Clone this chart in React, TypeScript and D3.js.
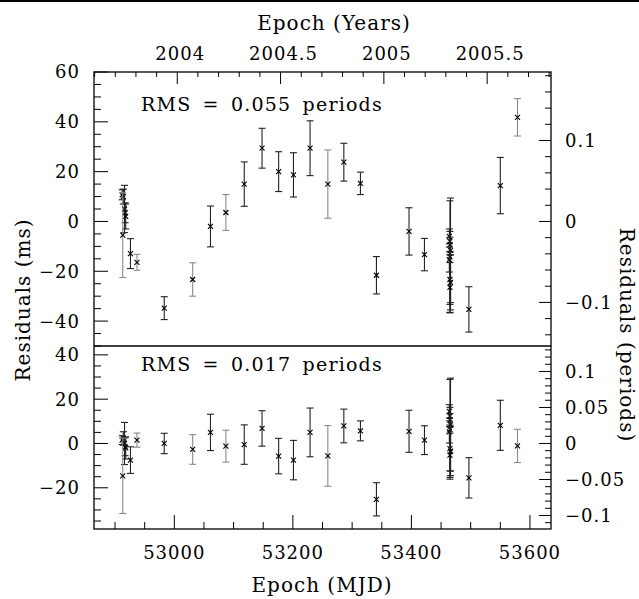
import * as d3 from "d3";

// timing residuals, pre-fit (top) and post-fit (bottom)
const mjd = [
  52912, 52914, 52916, 52917, 52918, 52913, 52926, 52937, 52983, 53031, 53061, 53087,
  53118, 53148, 53176, 53201, 53229, 53259, 53286, 53314, 53341, 53396, 53422,
  53464, 53465, 53465, 53466, 53465, 53464, 53465, 53466, 53465, 53497, 53550, 53579,
];
const errMs = [
  2, 3, 9.5, 4, 5, 17, 6, 3.2, 4.6, 6.7, 8.2, 7.2,
  8.9, 8, 8, 8.9, 11, 13.7, 7.6, 4.5, 7.5, 9.5, 6.5,
  3, 4, 3, 21, 22.5, 5, 10, 11, 10, 9.1, 11.3, 7.5,
];
const resTop = [
  10.7, 10, 5, 3.5, 2, -5.5, -12.9, -16.4, -34.8, -23.3, -2, 3.6,
  15, 29.4, 20, 18.7, 29.4, 15, 23.8, 15.3, -21.6, -4, -13.3,
  -6, -8, -9.3, -11.6, -14.2, -15.3, -23.3, -24.5, -26.5, -35.3, 14.4, 41.8,
];
const resBottom = [
  1.5, 2.3, 0, -1.5, -2, -14.6, -7.5, 1.5, 0, -2.7, 5, -1.2,
  -0.5, 6.8, -5.7, -7.5, 5, -5.6, 7.9, 5.7, -25.2, 5.5, 1.5,
  14.5, 12.3, 10.5, 8.5, 6.4, 5.2, -2.3, -3.5, -5.3, -15.5, 8.2, -1.1,
];
// 1 = second backend (grey error bars)
const backend = [
  0, 0, 0, 0, 0, 1, 0, 1, 0, 1, 0, 1,
  0, 0, 0, 0, 0, 1, 0, 0, 0, 0, 0,
  0, 0, 0, 0, 0, 0, 0, 0, 0, 0, 0, 1,
];

const mjdTicks = [53000, 53200, 53400, 53600];
const yearTicks = [2004, 2004.5, 2005, 2005.5];
const topMsTicks = [60, 40, 20, 0, -20, -40];
const botMsTicks = [40, 20, 0, -20];
const topPeriodTicks = [0.1, 0, -0.1];
const botPeriodTicks = [0.1, 0.05, 0, -0.05, -0.1];

const PERIOD_MS = 325;
const MJD_DOMAIN = [52864.5, 53635.5];
const YEAR_DOMAIN = [2003.597, 2005.809];
const TOP_DOMAIN = [-50, 60];
const BOT_DOMAIN = [-38.6, 44];

const W = 639, H = 599;
const L = 94, R = 551, T = 72, MID = 346, B = 529;
const FONT = "DejaVu Serif";

function fmt(v: number) {
  return v < 0 ? "\u2212" + String(-v) : String(v);
}

function Panel({ res, domain, msTicks, perTicks, perMinor, y0, y1, label }: any) {
  const x = d3.scaleLinear().domain(MJD_DOMAIN).range([L, R]);
  const y = d3.scaleLinear().domain(domain).range([y1, y0]);
  const yp = d3.scaleLinear().domain([domain[0] / PERIOD_MS, domain[1] / PERIOD_MS]).range([y1, y0]);
  const msMinor = d3.range(Math.ceil(domain[0] / 5) * 5, domain[1] + 0.01, 5);
  const pMinor = d3.range(Math.ceil(yp.domain()[0] / perMinor) * perMinor, yp.domain()[1], perMinor);
  return (
    <g>
      {msMinor.map((v) => (
        <line key={"m" + v} x1={L} x2={L + (v % 20 === 0 ? 14 : 7)} y1={y(v)} y2={y(v)} stroke="#000" />
      ))}
      {msTicks.map((v: number) => (
        <text key={"l" + v} x={80} y={y(v)} dy="0.36em" textAnchor="end" fontSize={18} letterSpacing={1}>
          {fmt(v)}
        </text>
      ))}
      {pMinor.map((v, i) => {
        const major = perTicks.some((t: number) => Math.abs(t - v) < 1e-6);
        return <line key={"p" + i} x1={R} x2={R - (major ? 12 : 6)} y1={yp(v)} y2={yp(v)} stroke="#000" />;
      })}
      {perTicks.map((v: number) => (
        <text key={"r" + v} x={565} y={yp(v)} dy="0.36em" fontSize={18} letterSpacing={1}>
          {fmt(v)}
        </text>
      ))}
      <text x={141} y={y0 + (y0 === T ? 39 : 25)} fontSize={19} letterSpacing={1.2} wordSpacing={4}>
        {label}
      </text>
      {mjd.map((m, i) => {
        const cx = x(m), cy = y(res[i]);
        const ya = y(res[i] + errMs[i]), yb = y(res[i] - errMs[i]);
        const c = backend[i] ? "#8a8a8a" : "#222";
        return (
          <g key={i}>
            <line x1={cx} x2={cx} y1={ya} y2={yb} stroke={c} strokeWidth={1.1} />
            <line x1={cx - 3.5} x2={cx + 3.5} y1={ya} y2={ya} stroke={c} strokeWidth={1.1} />
            <line x1={cx - 3.5} x2={cx + 3.5} y1={yb} y2={yb} stroke={c} strokeWidth={1.1} />
            <path d={`M${cx - 2.5},${cy - 2.5}L${cx + 2.5},${cy + 2.5}M${cx - 2.5},${cy + 2.5}L${cx + 2.5},${cy - 2.5}`} stroke="#000" strokeWidth={1.1} />
          </g>
        );
      })}
    </g>
  );
}

export default function App() {
  const x = d3.scaleLinear().domain(MJD_DOMAIN).range([L, R]);
  const xy = d3.scaleLinear().domain(YEAR_DOMAIN).range([L, R]);
  const mjdMinor = d3.range(52900, MJD_DOMAIN[1], 50);
  const yearMinor = d3.range(2003.6, YEAR_DOMAIN[1], 0.1);
  return (
    <svg width={W} height={H} style={{ position: "absolute", left: 0, top: 0, background: "#fff" }} fontFamily={FONT} fill="#000">
      <line x1={0} x2={W} y1={1} y2={1} stroke="#000" strokeWidth={2} />
      <Panel res={resTop} domain={TOP_DOMAIN} msTicks={topMsTicks} perTicks={topPeriodTicks} perMinor={0.02}
        y0={T} y1={MID} label="RMS = 0.055 periods" />
      <Panel res={resBottom} domain={BOT_DOMAIN} msTicks={botMsTicks} perTicks={botPeriodTicks} perMinor={0.01}
        y0={MID} y1={B} label="RMS = 0.017 periods" />
      {mjdMinor.map((v) => (
        <line key={"x" + v} x1={x(v)} x2={x(v)} y1={B} y2={B - (v % 200 === 0 ? 14 : 7)} stroke="#000" />
      ))}
      {mjdTicks.map((v) => (
        <text key={"xl" + v} x={x(v)} y={559} textAnchor="middle" fontSize={18} letterSpacing={1}>{v}</text>
      ))}
      {yearMinor.map((v, i) => {
        const major = Math.abs(v * 2 - Math.round(v * 2)) < 1e-6;
        return <line key={"y" + i} x1={xy(v)} x2={xy(v)} y1={T} y2={T + (major ? 12 : 5)} stroke="#000" />;
      })}
      {yearTicks.map((v) => (
        <text key={"yl" + v} x={xy(v) + 3} y={60} textAnchor="middle" fontSize={18} letterSpacing={1}>{v}</text>
      ))}
      <rect x={L} y={T} width={R - L} height={B - T} fill="none" stroke="#000" strokeWidth={1.3} />
      <line x1={L} x2={R} y1={MID} y2={MID} stroke="#000" strokeWidth={1.3} />
      <text x={334} y={30} textAnchor="middle" fontSize={20} letterSpacing={1}>Epoch (Years)</text>
      <text x={322} y={592} textAnchor="middle" fontSize={20} letterSpacing={1}>Epoch (MJD)</text>
      <text transform="translate(30,300) rotate(-90)" textAnchor="middle" fontSize={20} letterSpacing={1}>Residuals (ms)</text>
      <text transform="translate(620,335) rotate(90)" textAnchor="middle" fontSize={20} letterSpacing={1}>Residuals (periods)</text>
    </svg>
  );
}
